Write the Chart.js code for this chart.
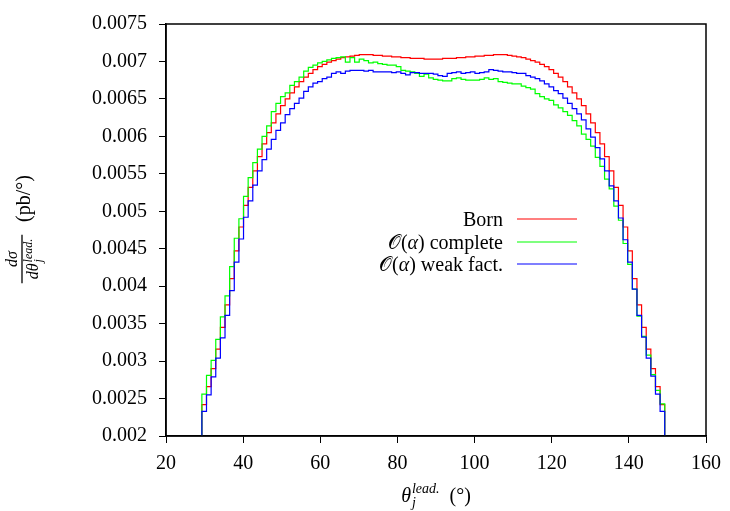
<!DOCTYPE html>
<html>
<head>
<meta charset="utf-8">
<script src="https://cdn.jsdelivr.net/npm/chart.js@4/dist/chart.umd.min.js"></script>
<style>
  html, body { margin: 0; padding: 0; background: #fff; }
  #wrap { width: 730px; height: 511px; }
</style>
</head>
<body>
<div id="wrap"><canvas id="chart" width="730" height="511"></canvas></div>
<script>
// histogram binning of the leading jet angle (degrees)
const thetaStart = 29.3;
const binWidth = 1.2;

// Born
const bornValues = [
  0.00242, 0.00266, 0.00290, 0.00316, 0.00345, 0.00375, 0.00410, 0.00447, 0.00479, 0.00508,
  0.00532, 0.00554, 0.00573, 0.00590, 0.00605, 0.00618, 0.00630, 0.00641, 0.00650, 0.00658,
  0.00666, 0.00673, 0.00679, 0.00684, 0.00689, 0.00693, 0.00696, 0.00699, 0.00701, 0.00703,
  0.00705, 0.00706, 0.00707, 0.00708, 0.00709, 0.00709, 0.00709, 0.00708, 0.00708, 0.00707,
  0.00707, 0.00706, 0.00706, 0.00705, 0.00705, 0.00704, 0.00704, 0.00704, 0.00703, 0.00703,
  0.00703, 0.00703, 0.00704, 0.00704, 0.00704, 0.00705, 0.00705, 0.00706, 0.00706, 0.00707,
  0.00707, 0.00708, 0.00708, 0.00709, 0.00709, 0.00709, 0.00708, 0.00707, 0.00706, 0.00705,
  0.00703, 0.00701, 0.00699, 0.00696, 0.00693, 0.00689, 0.00684, 0.00679, 0.00673, 0.00666,
  0.00658, 0.00650, 0.00641, 0.00630, 0.00618, 0.00605, 0.00590, 0.00573, 0.00554, 0.00532,
  0.00508, 0.00479, 0.00447, 0.00410, 0.00375, 0.00345, 0.00316, 0.00290, 0.00266, 0.00242
];

// O(alpha) complete
const completeValues = [
  0.00256, 0.00281, 0.00301, 0.00329, 0.00359, 0.00387, 0.00426, 0.00464, 0.00490, 0.00520,
  0.00545, 0.00565, 0.00583, 0.00600, 0.00614, 0.00633, 0.00644, 0.00653, 0.00658, 0.00668,
  0.00673, 0.00679, 0.00687, 0.00692, 0.00695, 0.00698, 0.00700, 0.00702, 0.00704, 0.00705,
  0.00706, 0.00699, 0.00705, 0.00699, 0.00703, 0.00701, 0.00698, 0.00699, 0.00697, 0.00696,
  0.00695, 0.00695, 0.00693, 0.00688, 0.00687, 0.00686, 0.00684, 0.00680, 0.00683, 0.00678,
  0.00676, 0.00675, 0.00674, 0.00674, 0.00677, 0.00678, 0.00676, 0.00675, 0.00675, 0.00675,
  0.00676, 0.00678, 0.00676, 0.00677, 0.00673, 0.00672, 0.00671, 0.00670, 0.00670, 0.00667,
  0.00665, 0.00663, 0.00657, 0.00653, 0.00650, 0.00648, 0.00642, 0.00638, 0.00633, 0.00628,
  0.00621, 0.00614, 0.00603, 0.00596, 0.00587, 0.00572, 0.00560, 0.00543, 0.00530, 0.00507,
  0.00488, 0.00457, 0.00429, 0.00396, 0.00360, 0.00333, 0.00308, 0.00282, 0.00261, 0.00243
];

// O(alpha) weak factorised
const weakValues = [
  0.00233, 0.00255, 0.00279, 0.00304, 0.00331, 0.00361, 0.00394, 0.00432, 0.00463, 0.00492,
  0.00514, 0.00535, 0.00554, 0.00569, 0.00583, 0.00596, 0.00608, 0.00618, 0.00629, 0.00637,
  0.00644, 0.00651, 0.00660, 0.00666, 0.00671, 0.00673, 0.00677, 0.00679, 0.00684, 0.00686,
  0.00684, 0.00687, 0.00688, 0.00688, 0.00688, 0.00687, 0.00688, 0.00686, 0.00686, 0.00686,
  0.00686, 0.00685, 0.00686, 0.00684, 0.00682, 0.00685, 0.00685, 0.00684, 0.00684, 0.00684,
  0.00683, 0.00681, 0.00680, 0.00684, 0.00685, 0.00686, 0.00684, 0.00685, 0.00686, 0.00684,
  0.00685, 0.00686, 0.00689, 0.00688, 0.00687, 0.00686, 0.00686, 0.00685, 0.00684, 0.00684,
  0.00681, 0.00679, 0.00677, 0.00674, 0.00670, 0.00666, 0.00661, 0.00657, 0.00651, 0.00644,
  0.00637, 0.00630, 0.00622, 0.00610, 0.00599, 0.00585, 0.00570, 0.00554, 0.00534, 0.00514,
  0.00491, 0.00462, 0.00432, 0.00396, 0.00361, 0.00332, 0.00304, 0.00280, 0.00256, 0.00233
];

const xTicks = [20, 40, 60, 80, 100, 120, 140, 160];
const yTicks = [0.002, 0.0025, 0.003, 0.0035, 0.004, 0.0045, 0.005, 0.0055, 0.006, 0.0065, 0.007, 0.0075];
const yTickLabels = ['0.002', '0.0025', '0.003', '0.0035', '0.004', '0.0045', '0.005', '0.0055', '0.006', '0.0065', '0.007', '0.0075'];

const seriesColors = ['#ff0000', '#00ff00', '#0000ff'];

const serif = "'Liberation Serif', 'DejaVu Serif', serif";

// outline of a histogram: goes down to the axis at both ends
function stepPoints(values) {
    const base = yTicks[0];
    const pts = [{ x: thetaStart, y: base }];
    values.forEach(function (v, i) {
        const lo = thetaStart + i * binWidth;
        pts.push({ x: lo, y: v });
        pts.push({ x: lo + binWidth, y: v });
    });
    pts.push({ x: thetaStart + values.length * binWidth, y: base });
    return pts;
}

// draws a list of text runs [text, fontSize, italic] starting at x
function drawRuns(ctx, runs, x, y) {
    runs.forEach(function (r) {
        ctx.font = (r[2] ? 'italic ' : '') + r[1] + 'px ' + serif;
        ctx.fillText(r[0], x, y);
        x += ctx.measureText(r[0]).width;
    });
    return x;
}
function runsWidth(ctx, runs) {
    let w = 0;
    runs.forEach(function (r) {
        ctx.font = (r[2] ? 'italic ' : '') + r[1] + 'px ' + serif;
        w += ctx.measureText(r[0]).width;
    });
    return w;
}

// legend rows: text pieces for each series
const legendRuns = [
    [['Born', 20, false]],
    [['\u{1D4AA}', 20, false], ['(', 20, false], ['\u03B1', 20, true], [') complete', 20, false]],
    [['\u{1D4AA}', 20, false], ['(', 20, false], ['\u03B1', 20, true], [') weak fact.', 20, false]]
];

const decorPlugin = {
    id: 'decor',
    afterDraw(chart) {
        const ctx = chart.ctx;
        const a = chart.chartArea;
        ctx.save();

        // frame around the plot
        ctx.strokeStyle = '#000';
        ctx.lineWidth = 1.5;
        ctx.strokeRect(a.left, a.top, a.right - a.left, a.bottom - a.top);

        ctx.fillStyle = '#000';
        ctx.textBaseline = 'alphabetic';
        ctx.textAlign = 'left';

        // legend
        const rowsY = [219, 242, 264];
        legendRuns.forEach(function (runs, i) {
            const w = runsWidth(ctx, runs);
            drawRuns(ctx, runs, 503 - w, rowsY[i] + 7);
            ctx.strokeStyle = seriesColors[i];
            ctx.lineWidth = 1.2;
            ctx.beginPath();
            ctx.moveTo(517, rowsY[i]);
            ctx.lineTo(577, rowsY[i]);
            ctx.stroke();
        });

        // x axis title
        ctx.fillStyle = '#000';
        ctx.font = 'italic 20px ' + serif;
        const thetaW = ctx.measureText('\u03B8').width;
        ctx.font = 'italic 14px ' + serif;
        const supW = ctx.measureText('lead.').width;
        ctx.font = '20px ' + serif;
        const tailW = ctx.measureText('  (\u00B0)').width;
        const total = thetaW + 1 + supW + tailW;
        let x = 436 - total / 2;
        const by = 502;
        ctx.font = 'italic 20px ' + serif;
        ctx.fillText('\u03B8', x, by);
        x += thetaW + 1;
        ctx.font = 'italic 14px ' + serif;
        ctx.fillText('lead.', x, by - 9);
        ctx.fillText('j', x, by + 5);
        x += supW;
        ctx.font = '20px ' + serif;
        ctx.fillText('  (\u00B0)', x, by);

        // y axis title, rotated: local x runs up the page, local y to the right
        ctx.translate(0, 511);
        ctx.rotate(-Math.PI / 2);
        const mid = 511 - 259;
        ctx.font = 'italic 16px ' + serif;
        const numW = ctx.measureText('d\u03C3').width;
        ctx.fillText('d\u03C3', mid - numW / 2, 17);
        const dthW = ctx.measureText('d\u03B8').width;
        ctx.font = 'italic 12px ' + serif;
        const leadW = ctx.measureText('lead.').width;
        const denW = dthW + 1 + leadW;
        let lx = mid - denW / 2;
        ctx.font = 'italic 16px ' + serif;
        ctx.fillText('d\u03B8', lx, 38);
        lx += dthW + 1;
        ctx.font = 'italic 12px ' + serif;
        ctx.fillText('lead.', lx, 32);
        ctx.fillText('j', lx, 42);
        ctx.lineWidth = 1.3;
        ctx.strokeStyle = '#000';
        ctx.beginPath();
        ctx.moveTo(mid - denW / 2 - 4, 22);
        ctx.lineTo(mid + denW / 2 + 4, 22);
        ctx.stroke();
        ctx.font = '20px ' + serif;
        ctx.fillText('(pb/\u00B0)', 289, 30);

        ctx.restore();
    }
};

const datasets = [
    { label: 'Born', data: stepPoints(bornValues), borderColor: seriesColors[0], order: 3 },
    { label: 'O(\u03B1) complete', data: stepPoints(completeValues), borderColor: seriesColors[1], order: 2 },
    { label: 'O(\u03B1) weak fact.', data: stepPoints(weakValues), borderColor: seriesColors[2], order: 1 }
];
datasets.forEach(function (d) {
    d.borderWidth = 1.2;
    d.pointRadius = 0;
    d.fill = false;
    d.tension = 0;
});

new Chart(document.getElementById('chart').getContext('2d'), {
    type: 'line',
    data: { datasets: datasets },
    options: {
        responsive: false,
        animation: false,
        events: [],
        layout: { padding: { left: 0, right: 23, top: 18, bottom: 0 } },
        plugins: { legend: { display: false }, tooltip: { enabled: false } },
        scales: {
            x: {
                type: 'linear',
                min: 20,
                max: 160,
                afterBuildTicks: function (s) { s.ticks = xTicks.map(function (v) { return { value: v }; }); },
                afterFit: function (s) { s.height = 75; },
                ticks: { color: '#000', font: { family: serif, size: 20 }, padding: 9, maxRotation: 0, autoSkip: false },
                grid: { drawOnChartArea: false, drawTicks: true, tickLength: 7, color: '#000', lineWidth: 1 },
                border: { display: true, color: '#000', width: 1.5 }
            },
            y: {
                type: 'linear',
                min: yTicks[0],
                max: yTicks[yTicks.length - 1],
                afterBuildTicks: function (s) { s.ticks = yTicks.map(function (v) { return { value: v }; }); },
                afterFit: function (s) { s.width = 166; },
                ticks: {
                    color: '#000',
                    font: { family: serif, size: 20 },
                    padding: 12,
                    autoSkip: false,
                    callback: function (v) {
                        const i = yTicks.findIndex(function (t) { return Math.abs(t - v) < 1e-9; });
                        return i >= 0 ? yTickLabels[i] : '';
                    }
                },
                grid: { drawOnChartArea: false, drawTicks: true, tickLength: 7, color: '#000', lineWidth: 1 },
                border: { display: true, color: '#000', width: 1.5 }
            }
        }
    },
    plugins: [decorPlugin]
});
</script>
</body>
</html>
